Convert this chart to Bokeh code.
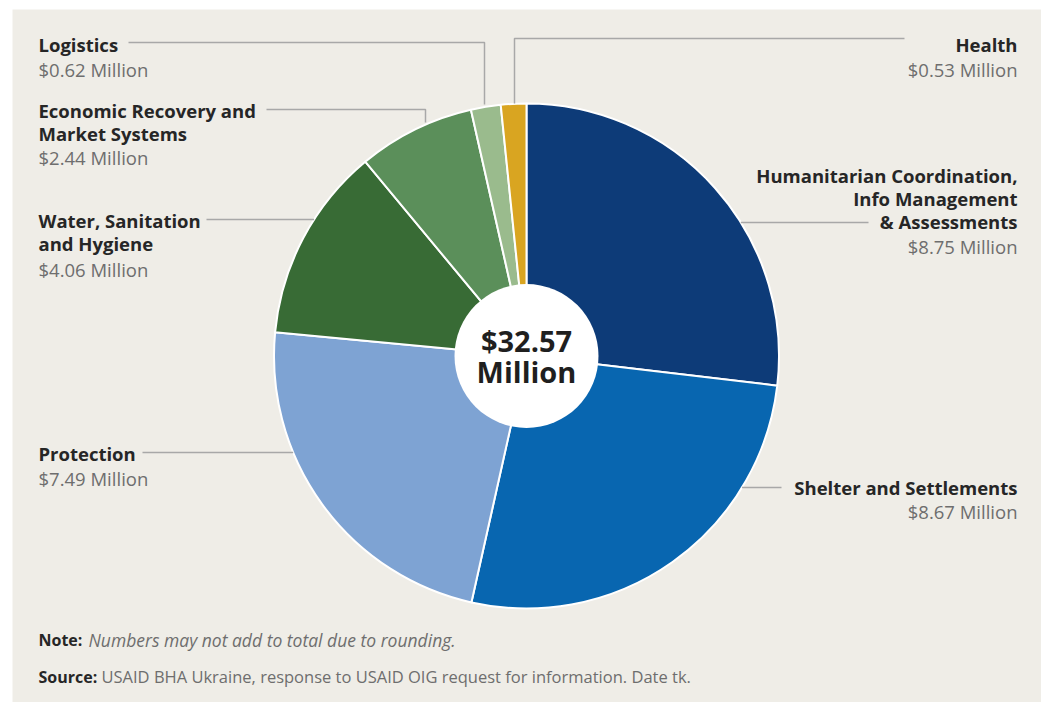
import math
from bokeh.plotting import figure
from bokeh.models import Range1d, ColumnDataSource
from bokeh.core.properties import value
from bokeh.embed import file_html
from bokeh.resources import INLINE

# ---- data ----
categories = ["Humanitarian Coordination, Info Management & Assessments",
              "Shelter and Settlements", "Protection",
              "Water, Sanitation and Hygiene",
              "Economic Recovery and Market Systems", "Logistics", "Health"]
amounts = [8.75, 8.67, 7.49, 4.06, 2.44, 0.62, 0.53]
amount_labels = ["$8.75 Million", "$8.67 Million", "$7.49 Million", "$4.06 Million",
                 "$2.44 Million", "$0.62 Million", "$0.53 Million"]
colors = ["#0d3b78", "#0866b0", "#7ea3d3", "#386b35", "#5b8f5a", "#9abb8d", "#d9a521"]
total_label = ["$32.57", "Million"]
note_text = ["Note:", "Numbers may not add to total due to rounding."]
source_text = ["Source:", "USAID BHA Ukraine, response to USAID OIG request for information. Date tk."]

BG = "#efede7"
W, H = 1041, 702
LB, TB = 12, 9
FONT = "Open Sans"

p = figure(width=W, height=H, output_backend="svg", toolbar_location=None,
           x_range=Range1d(LB, W), y_range=Range1d(0, H - TB),
           min_border=0, min_border_left=LB, min_border_top=TB)
p.axis.visible = False
p.grid.visible = False
p.outline_line_color = None
p.background_fill_color = BG
p.border_fill_color = "white"


def Y(s):
    return 702 - s


cx, cy_s, R = 526, 355.5, 252.5
cy = Y(cy_s)

tot = sum(amounts)
starts, ends = [], []
acc = 0.0
for a in amounts:
    starts.append(math.pi / 2 - 2 * math.pi * acc / tot)
    acc += a
    ends.append(math.pi / 2 - 2 * math.pi * acc / tot)

src = ColumnDataSource(dict(cat=categories, amt=amounts, start=starts, end=ends, color=colors))
p.wedge(x=cx, y=cy, radius=R, start_angle="start", end_angle="end", direction="clock",
        fill_color="color", line_color="white", line_width=2, source=src)
p.scatter(x=[cx], y=[cy], size=144, marker="circle", fill_color="white", line_color=None)

p.text(x=[cx, cx], y=[Y(340), Y(371)], text=total_label, text_align="center",
       text_baseline="middle", text_font=value(FONT), text_font_style="bold",
       text_font_size="29px", text_color="#1f1f1f")

LINE = "#a8a8a8"


def edge_x(sy, side):
    dy = sy - cy_s
    return cx + side * math.sqrt(R * R - dy * dy)


# leader lines (layout)
p.line([128, 484, 484], [Y(42), Y(42), Y(104)], line_color=LINE, line_width=1.5)          # Logistics
p.line([904, 514, 514], [Y(38), Y(38), Y(103)], line_color=LINE, line_width=1.5)          # Health
p.line([266, 425, 425], [Y(109), Y(109), Y(122)], line_color=LINE, line_width=1.5)        # Economic
p.line([206, edge_x(219, -1)], [Y(219), Y(219)], line_color=LINE, line_width=1.5)         # WASH
p.line([edge_x(222, 1), 868], [Y(222), Y(222)], line_color=LINE, line_width=1.5)          # Humanitarian
p.line([142, edge_x(452, -1)], [Y(452), Y(452)], line_color=LINE, line_width=1.5)         # Protection
p.line([edge_x(487, 1), 781], [Y(487), Y(487)], line_color=LINE, line_width=1.5)          # Shelter

DARK = "#262626"
GRAY = "#6e6e6e"
FS = "18.5px"


def label(x, ys, lines, val, align):
    for yy, t in zip(ys[:-1], lines):
        p.text(x=[x], y=[Y(yy)], text=[t], text_align=align, text_baseline="middle",
               text_font=value(FONT), text_font_style="bold", text_font_size=FS,
               text_color=DARK)
    p.text(x=[x], y=[Y(ys[-1])], text=[val], text_align=align, text_baseline="middle",
           text_font=value(FONT), text_font_size=FS, text_color=GRAY)


LX, RX = 38, 1017
label(LX, [44, 69], ["Logistics"], amount_labels[5], "left")
label(LX, [110, 133, 157], ["Economic Recovery and", "Market Systems"], amount_labels[4], "left")
label(LX, [220, 243, 269], ["Water, Sanitation", "and Hygiene"], amount_labels[3], "left")
label(LX, [453, 478], ["Protection"], amount_labels[2], "left")
label(RX, [44, 69], ["Health"], amount_labels[6], "right")
label(RX, [175, 198, 221, 246], ["Humanitarian Coordination,", "Info Management", "& Assessments"],
      amount_labels[0], "right")
label(RX, [487, 511], ["Shelter and Settlements"], amount_labels[1], "right")

# notes
p.text(x=[38], y=[Y(639)], text=[note_text[0]], text_baseline="middle", text_font=value(FONT),
       text_font_style="bold", text_font_size="16px", text_color=DARK)
p.text(x=[88], y=[Y(639)], text=[note_text[1]], text_baseline="middle", text_font=value(FONT),
       text_font_style="italic", text_font_size="17.5px", text_color=GRAY)
p.text(x=[38], y=[Y(676)], text=[source_text[0]], text_baseline="middle", text_font=value(FONT),
       text_font_style="bold", text_font_size="16px", text_color=DARK)
p.text(x=[101], y=[Y(676)], text=[source_text[1]], text_baseline="middle", text_font=value(FONT),
       text_font_size="16.5px", text_color=GRAY)

open("out.html", "w").write(file_html(p, INLINE))
